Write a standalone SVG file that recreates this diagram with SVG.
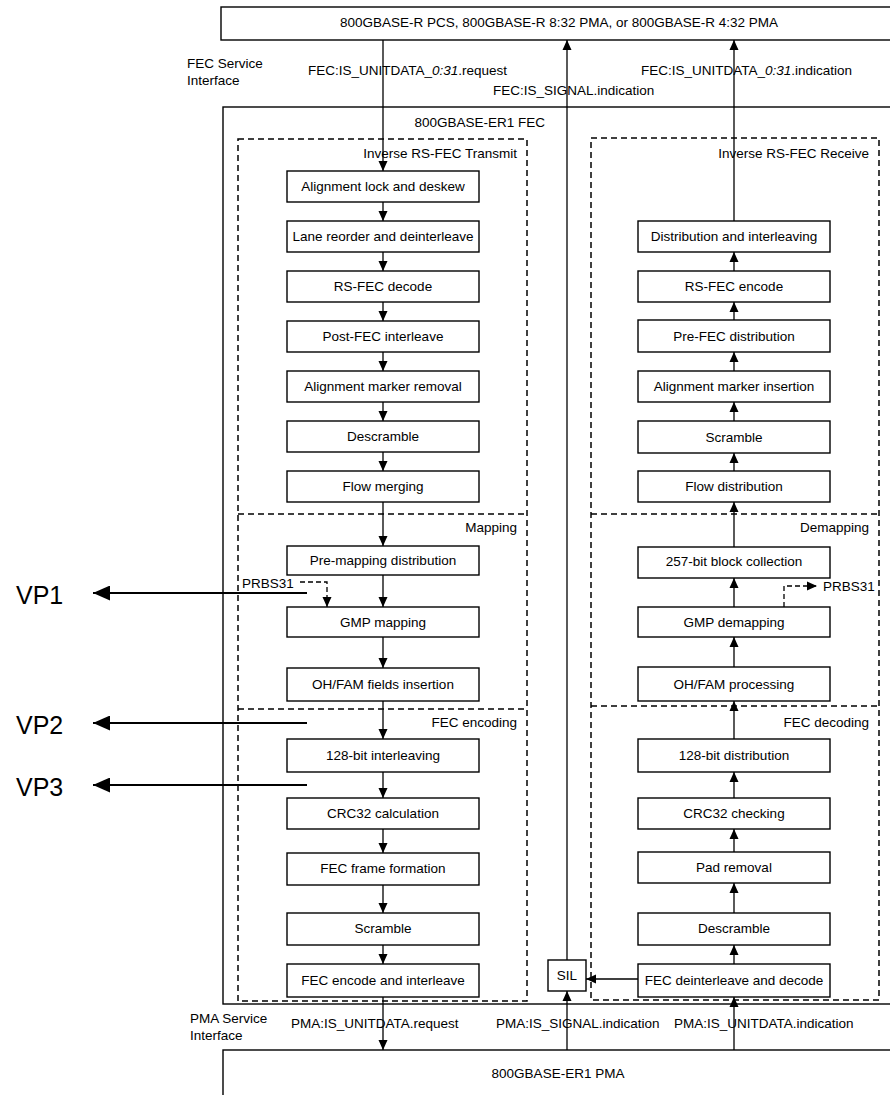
<svg xmlns="http://www.w3.org/2000/svg" width="890" height="1095" viewBox="0 0 890 1095">
<defs>
<style>
text{font-family:"Liberation Sans",Arial,sans-serif;font-size:13.5px;fill:#000}
.c{text-anchor:middle}
.r{text-anchor:end}
.vp{font-size:25px}
.box{fill:#fff;stroke:#000;stroke-width:1.4}
.frame{fill:none;stroke:#000;stroke-width:1.4}
.dash{fill:none;stroke:#000;stroke-width:1.5;stroke-dasharray:6 4}
.ln{fill:none;stroke:#000;stroke-width:1.3}
.dl{fill:none;stroke:#000;stroke-width:1.3;stroke-dasharray:5 3}
.vl{fill:none;stroke:#000;stroke-width:2}
</style>
<marker id="ah" viewBox="0 0 10 10" refX="10" refY="5" markerWidth="10" markerHeight="10" markerUnits="userSpaceOnUse" orient="auto"><path d="M0,0.5 L10,5 L0,9.5 z" fill="#000"/></marker>
<marker id="ahb" viewBox="0 0 17 15" refX="17" refY="7.5" markerWidth="17" markerHeight="15" markerUnits="userSpaceOnUse" orient="auto"><path d="M0,0 L17,7.5 L0,15 z" fill="#000"/></marker>
</defs>
<rect width="890" height="1095" fill="#fff"/>

<g id="top-layer">
<rect class="frame" x="221" y="7" width="700" height="33"/>
<text class="c" x="559" y="27">800GBASE-R PCS, 800GBASE-R 8:32 PMA, or 800GBASE-R 4:32 PMA</text>
</g>

<g id="fec-sublayer">
<rect class="frame" x="223" y="107" width="700" height="897"/>
<text class="r" x="545" y="127">800GBASE-ER1 FEC</text>
</g>

<g id="pma-layer">
<rect class="frame" x="223" y="1050" width="700" height="100"/>
<text class="c" x="558" y="1078">800GBASE-ER1 PMA</text>
</g>

<g id="interface-labels">
<text x="187" y="68">FEC Service</text>
<text x="187" y="85">Interface</text>
<text x="308" y="75">FEC:IS_UNITDATA_<tspan font-style="italic">0:31</tspan>.request</text>
<text x="493" y="95">FEC:IS_SIGNAL.indication</text>
<text x="641" y="75">FEC:IS_UNITDATA_<tspan font-style="italic">0:31</tspan>.indication</text>
<text x="190" y="1023">PMA Service</text>
<text x="190" y="1040">Interface</text>
<text x="291" y="1028">PMA:IS_UNITDATA.request</text>
<text x="496" y="1028">PMA:IS_SIGNAL.indication</text>
<text x="674" y="1028">PMA:IS_UNITDATA.indication</text>
</g>

<g id="tx-sections">
<rect class="dash" x="238" y="139" width="289" height="862"/>
<line class="dash" x1="238" y1="514" x2="527" y2="514"/>
<line class="dash" x1="238" y1="709" x2="527" y2="709"/>
<text class="r" x="517" y="158">Inverse RS-FEC Transmit</text>
<text class="r" x="517" y="532">Mapping</text>
<text class="r" x="517" y="727">FEC encoding</text>
</g>

<g id="rx-sections">
<rect class="dash" x="591" y="138" width="288" height="862"/>
<line class="dash" x1="591" y1="514" x2="879" y2="514"/>
<line class="dash" x1="591" y1="706" x2="879" y2="706"/>
<text class="r" x="869" y="158">Inverse RS-FEC Receive</text>
<text class="r" x="869" y="532">Demapping</text>
<text class="r" x="869" y="727">FEC decoding</text>
</g>

<g id="tx1"><rect class="box" x="287" y="171" width="192" height="31"/><text class="c" x="383" y="191">Alignment lock and deskew</text></g>
<g id="tx2"><rect class="box" x="287" y="221" width="192" height="31"/><text class="c" x="383" y="241">Lane reorder and deinterleave</text></g>
<g id="tx3"><rect class="box" x="287" y="271" width="192" height="31"/><text class="c" x="383" y="291">RS-FEC decode</text></g>
<g id="tx4"><rect class="box" x="287" y="321" width="192" height="31"/><text class="c" x="383" y="341">Post-FEC interleave</text></g>
<g id="tx5"><rect class="box" x="287" y="371" width="192" height="31"/><text class="c" x="383" y="391">Alignment marker removal</text></g>
<g id="tx6"><rect class="box" x="287" y="421" width="192" height="31"/><text class="c" x="383" y="441">Descramble</text></g>
<g id="tx7"><rect class="box" x="287" y="471" width="192" height="31"/><text class="c" x="383" y="491">Flow merging</text></g>
<g id="tx8"><rect class="box" x="287" y="546" width="192" height="29"/><text class="c" x="383" y="565">Pre-mapping distribution</text></g>
<g id="tx9"><rect class="box" x="287" y="607" width="192" height="30"/><text class="c" x="383" y="627">GMP mapping</text></g>
<g id="tx10"><rect class="box" x="287" y="668" width="192" height="33"/><text class="c" x="383" y="689">OH/FAM fields insertion</text></g>
<g id="tx11"><rect class="box" x="287" y="739" width="192" height="33"/><text class="c" x="383" y="760">128-bit interleaving</text></g>
<g id="tx12"><rect class="box" x="287" y="798" width="192" height="31"/><text class="c" x="383" y="818">CRC32 calculation</text></g>
<g id="tx13"><rect class="box" x="287" y="853" width="192" height="32"/><text class="c" x="383" y="873">FEC frame formation</text></g>
<g id="tx14"><rect class="box" x="287" y="913" width="192" height="32"/><text class="c" x="383" y="933">Scramble</text></g>
<g id="tx15"><rect class="box" x="287" y="964" width="192" height="33"/><text class="c" x="383" y="985">FEC encode and interleave</text></g>

<g id="rx1"><rect class="box" x="638" y="221" width="192" height="31"/><text class="c" x="734" y="241">Distribution and interleaving</text></g>
<g id="rx2"><rect class="box" x="638" y="271" width="192" height="31"/><text class="c" x="734" y="291">RS-FEC encode</text></g>
<g id="rx3"><rect class="box" x="638" y="320" width="192" height="32"/><text class="c" x="734" y="341">Pre-FEC distribution</text></g>
<g id="rx4"><rect class="box" x="638" y="371" width="192" height="31"/><text class="c" x="734" y="391">Alignment marker insertion</text></g>
<g id="rx5"><rect class="box" x="638" y="421" width="192" height="32"/><text class="c" x="734" y="442">Scramble</text></g>
<g id="rx6"><rect class="box" x="638" y="471" width="192" height="31"/><text class="c" x="734" y="491">Flow distribution</text></g>
<g id="rx7"><rect class="box" x="638" y="547" width="192" height="31"/><text class="c" x="734" y="566">257-bit block collection</text></g>
<g id="rx8"><rect class="box" x="638" y="607" width="192" height="30"/><text class="c" x="734" y="627">GMP demapping</text></g>
<g id="rx9"><rect class="box" x="638" y="667" width="192" height="34"/><text class="c" x="734" y="689">OH/FAM processing</text></g>
<g id="rx10"><rect class="box" x="638" y="739" width="192" height="33"/><text class="c" x="734" y="760">128-bit distribution</text></g>
<g id="rx11"><rect class="box" x="638" y="798" width="192" height="31"/><text class="c" x="734" y="818">CRC32 checking</text></g>
<g id="rx12"><rect class="box" x="638" y="852" width="192" height="31"/><text class="c" x="734" y="872">Pad removal</text></g>
<g id="rx13"><rect class="box" x="638" y="913" width="192" height="32"/><text class="c" x="734" y="933">Descramble</text></g>
<g id="rx14"><rect class="box" x="638" y="964" width="192" height="33"/><text class="c" x="734" y="985">FEC deinterleave and decode</text></g>

<g id="sil"><rect class="box" x="548" y="960" width="38" height="31"/><text class="c" x="567" y="980">SIL</text></g>

<g id="prbs-labels">
<text x="242" y="588">PRBS31</text>
<text x="823" y="591">PRBS31</text>
</g>

<g id="vp-labels">
<text class="vp" x="16" y="604">VP1</text>
<text class="vp" x="16" y="734">VP2</text>
<text class="vp" x="16" y="796">VP3</text>
</g>

<g id="connectors">
<!-- transmit path -->
<line class="ln" x1="383" y1="40" x2="383" y2="171" marker-end="url(#ah)"/>
<line class="ln" x1="383" y1="202" x2="383" y2="221" marker-end="url(#ah)"/>
<line class="ln" x1="383" y1="252" x2="383" y2="271" marker-end="url(#ah)"/>
<line class="ln" x1="383" y1="302" x2="383" y2="321" marker-end="url(#ah)"/>
<line class="ln" x1="383" y1="352" x2="383" y2="371" marker-end="url(#ah)"/>
<line class="ln" x1="383" y1="402" x2="383" y2="421" marker-end="url(#ah)"/>
<line class="ln" x1="383" y1="452" x2="383" y2="471" marker-end="url(#ah)"/>
<line class="ln" x1="383" y1="502" x2="383" y2="546" marker-end="url(#ah)"/>
<line class="ln" x1="383" y1="575" x2="383" y2="607" marker-end="url(#ah)"/>
<line class="ln" x1="383" y1="637" x2="383" y2="668" marker-end="url(#ah)"/>
<line class="ln" x1="383" y1="701" x2="383" y2="739" marker-end="url(#ah)"/>
<line class="ln" x1="383" y1="772" x2="383" y2="798" marker-end="url(#ah)"/>
<line class="ln" x1="383" y1="829" x2="383" y2="853" marker-end="url(#ah)"/>
<line class="ln" x1="383" y1="885" x2="383" y2="913" marker-end="url(#ah)"/>
<line class="ln" x1="383" y1="945" x2="383" y2="964" marker-end="url(#ah)"/>
<line class="ln" x1="383" y1="997" x2="383" y2="1050" marker-end="url(#ah)"/>
<!-- receive path -->
<line class="ln" x1="734" y1="221" x2="734" y2="40" marker-end="url(#ah)"/>
<line class="ln" x1="734" y1="271" x2="734" y2="252" marker-end="url(#ah)"/>
<line class="ln" x1="734" y1="320" x2="734" y2="302" marker-end="url(#ah)"/>
<line class="ln" x1="734" y1="371" x2="734" y2="352" marker-end="url(#ah)"/>
<line class="ln" x1="734" y1="421" x2="734" y2="402" marker-end="url(#ah)"/>
<line class="ln" x1="734" y1="471" x2="734" y2="453" marker-end="url(#ah)"/>
<line class="ln" x1="734" y1="547" x2="734" y2="502" marker-end="url(#ah)"/>
<line class="ln" x1="734" y1="607" x2="734" y2="578" marker-end="url(#ah)"/>
<line class="ln" x1="734" y1="667" x2="734" y2="637" marker-end="url(#ah)"/>
<line class="ln" x1="734" y1="739" x2="734" y2="701" marker-end="url(#ah)"/>
<line class="ln" x1="734" y1="798" x2="734" y2="772" marker-end="url(#ah)"/>
<line class="ln" x1="734" y1="852" x2="734" y2="829" marker-end="url(#ah)"/>
<line class="ln" x1="734" y1="913" x2="734" y2="883" marker-end="url(#ah)"/>
<line class="ln" x1="734" y1="964" x2="734" y2="945" marker-end="url(#ah)"/>
<line class="ln" x1="734" y1="1050" x2="734" y2="997" marker-end="url(#ah)"/>
<!-- signal path -->
<line class="ln" x1="638" y1="979" x2="586" y2="979" marker-end="url(#ah)"/>
<line class="ln" x1="567" y1="960" x2="567" y2="40" marker-end="url(#ah)"/>
<line class="ln" x1="567" y1="1050" x2="567" y2="991" marker-end="url(#ah)"/>
<!-- PRBS31 -->
<path class="dl" d="M300,582 H327 V607" marker-end="url(#ah)"/>
<path class="dl" d="M784,607 V586 H817" marker-end="url(#ah)"/>
<!-- VP taps -->
<line class="vl" x1="307" y1="593" x2="93" y2="593" marker-end="url(#ahb)"/>
<line class="vl" x1="307" y1="723" x2="93" y2="723" marker-end="url(#ahb)"/>
<line class="vl" x1="307" y1="785" x2="93" y2="785" marker-end="url(#ahb)"/>
</g>
</svg>
